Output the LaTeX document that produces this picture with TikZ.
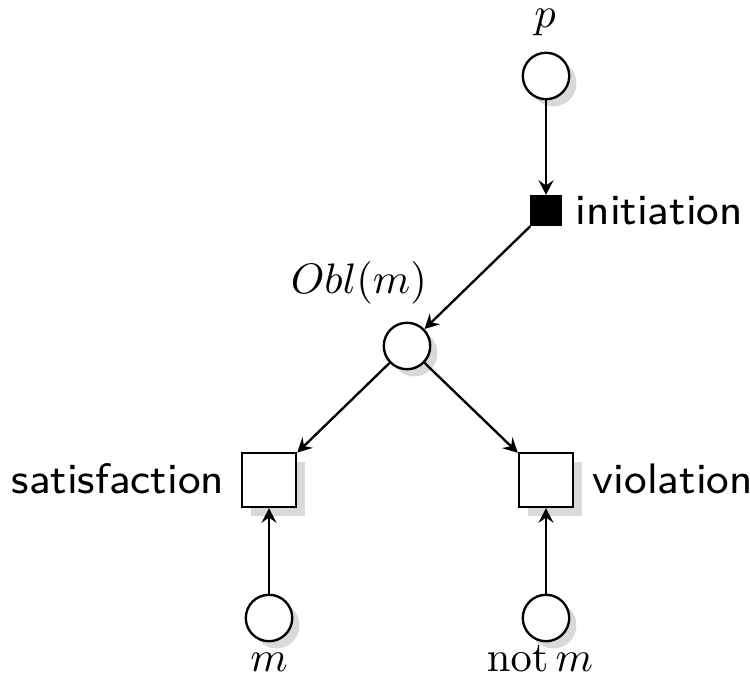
\documentclass[tikz,border=0pt]{standalone}
\usepackage{graphicx}
\usetikzlibrary{shadows,arrows.meta}
\newcommand{\sflbl}[1]{\scalebox{1.25}{\fontsize{8}{9.6}\selectfont\sffamily #1}}
\begin{document}
\begin{tikzpicture}[x=0.2347pt,y=-0.2347pt,
  place/.style={circle,draw,line width=0.55pt,fill=white,minimum size=10.9pt,inner sep=0pt,
    drop shadow={shadow xshift=1.7pt,shadow yshift=-1.7pt,fill=black!15,opacity=1}},
  trans/.style={rectangle,draw,line width=0.55pt,fill=white,minimum size=12.7pt,inner sep=0pt,
    drop shadow={shadow xshift=2.2pt,shadow yshift=-2.2pt,fill=black!15,opacity=1}},
  blacktrans/.style={rectangle,draw,line width=0.55pt,fill=black,minimum size=6.8pt,inner sep=0pt},
  txt/.style={inner sep=0pt},
  mtxt/.style={inner sep=0pt,font=\fontsize{10.4}{12.5}\selectfont},
  arc/.style={-{Stealth[length=3.4pt,width=3.5pt,inset=1.2pt]},line width=0.55pt}]
\useasboundingbox (0,0) rectangle (750,682);
\node[place] (p) at (546,76) {};
\node[blacktrans] (init) at (546,210.5) {};
\node[place] (obl) at (407,346) {};
\node[trans] (sat) at (269,480) {};
\node[trans] (viol) at (546,480) {};
\node[place] (m) at (269,618) {};
\node[place] (notm) at (546,618) {};
\node[mtxt,anchor=base] (plbl) at (545,28) {$p$};
\node[txt,anchor=base west] (initlbl) at (575,225) {\sflbl{initiation}};
\node[txt,anchor=base west] (obllbl) at (290,294) {\fontsize{10.4}{12.5}\selectfont$Obl(m)$};
\node[txt,anchor=base east] (satlbl) at (225,493) {\sflbl{satisfaction}};
\node[txt,anchor=base west] (viollbl) at (592,493) {\sflbl{violation}};
\node[mtxt,anchor=base] (mlbl) at (269,671) {$m$};
\node[mtxt,anchor=base] (notmlbl) at (540,671) {$\mathrm{not}\,m$};
\draw[arc] (p) -- (init);
\draw[arc] (init.south west) -- (obl);
\draw[arc] (obl) -- (sat);
\draw[arc] (obl) -- (viol);
\draw[arc] (m) -- (sat);
\draw[arc] (notm) -- (viol);
\end{tikzpicture}
\end{document}
